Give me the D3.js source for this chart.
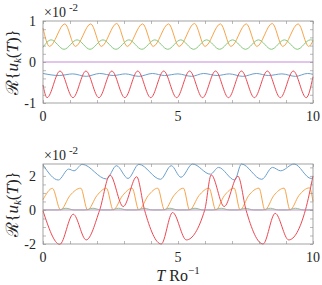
<!DOCTYPE html>
<html>
<head>
<meta charset="utf-8">
<script src="https://cdn.jsdelivr.net/npm/d3@7"></script>
<style>
  body { margin: 0; background: #fff; }
  text { font-family: "Liberation Serif", "DejaVu Serif", serif; fill: #262626; }
</style>
</head>
<body>
<div id="chart-container"></div>
<script>
// Chart size
const width = 322;
const height = 285;
const marginLeft = 43;
const marginRight = 9;

// x axis (time) values
const xDomain = [0, 10];
const xTicks = [0, 1, 2, 3, 4, 5, 6, 7, 8, 9, 10];
const xTickLabels = [0, 5, 10];

// top panel series, [T, value x1e-2]
const topBlue = [[0,-0.28],[0.6,-0.33],[1.1,-0.29],[1.6,-0.35],[2.1,-0.28],[2.6,-0.33],[3.05,-0.29],[3.55,-0.35],[4.05,-0.28],[4.5,-0.33],[5.0,-0.29],[5.5,-0.35],[5.95,-0.28],[6.45,-0.33],[6.9,-0.29],[7.4,-0.35],[7.9,-0.28],[8.35,-0.33],[8.85,-0.29],[9.35,-0.35],[9.8,-0.28],[10,-0.3]];
const topOrange = [[0,0.83],[0.24,0.38],[0.81,0.93],[1.2,0.38],[1.77,0.93],[2.16,0.38],[2.73,0.94],[3.12,0.38],[3.69,0.93],[4.08,0.38],[4.65,0.93],[5.04,0.38],[5.61,0.94],[6.0,0.38],[6.57,0.93],[6.96,0.38],[7.53,0.93],[7.92,0.38],[8.49,0.94],[8.88,0.38],[9.45,0.93],[9.84,0.38],[10,0.52]];
const topGreen = [[0,0.36],[0.3,0.54],[0.78,0.31],[1.26,0.54],[1.74,0.31],[2.22,0.54],[2.7,0.31],[3.18,0.54],[3.66,0.31],[4.14,0.54],[4.62,0.31],[5.1,0.54],[5.58,0.31],[6.06,0.54],[6.54,0.31],[7.02,0.54],[7.5,0.31],[7.98,0.54],[8.46,0.31],[8.94,0.54],[9.42,0.31],[9.9,0.54],[10,0.53]];
const topRed = [[0,-0.56],[0.15,-0.87],[0.63,-0.22],[1.11,-0.87],[1.59,-0.22],[2.07,-0.87],[2.55,-0.22],[3.03,-0.87],[3.51,-0.22],[3.99,-0.87],[4.47,-0.22],[4.95,-0.87],[5.43,-0.22],[5.91,-0.87],[6.39,-0.22],[6.87,-0.87],[7.35,-0.22],[7.83,-0.87],[8.31,-0.22],[8.79,-0.87],[9.27,-0.22],[9.75,-0.87],[10,-0.36]];
const topPurple = [[0,0],[10,0]];

// bottom panel series, [T, value x1e-2]
const botBlue = [[0,2.65],[0.57,1.76],[0.95,2.4],[1.15,2.3],[1.45,2.68],[2.35,1.82],[2.72,2.6],[3.15,1.85],[3.55,2.68],[4.35,1.8],[4.75,2.6],[5.11,1.92],[5.54,2.7],[6.2,2.1],[6.5,2.5],[7.1,1.76],[7.35,2.7],[8.1,1.8],[8.5,2.5],[8.8,2.3],[9.3,2.7],[9.93,1.85],[10,1.9]];
const botOrange = [[0,0.6],[0.35,1.27],[0.65,0],[1.0,0.85],[1.4,1.28],[1.65,0],[2.0,0.85],[2.35,1.28],[2.6,0],[2.95,0.85],[3.3,1.28],[3.55,0],[3.9,0.85],[4.25,1.28],[4.5,0],[4.85,0.85],[5.2,1.28],[5.43,0],[5.78,0.85],[6.15,1.28],[6.4,0],[6.72,0.85],[7.08,1.28],[7.3,0],[7.62,0.85],[8.0,1.28],[8.22,0],[8.55,0.85],[8.93,1.28],[9.15,0],[9.48,0.85],[9.87,1.3],[10,0.5]];
const botGreen = [[0,0],[0.55,0],[0.85,0.1],[1.15,0],[1.55,0],[1.85,0.1],[2.15,0],[2.5,0],[2.8,0.1],[3.1,0],[3.45,0],[3.75,0.1],[4.05,0],[4.4,0],[4.7,0.1],[5.0,0],[5.33,0],[5.63,0.1],[5.93,0],[6.3,0],[6.6,0.1],[6.9,0],[7.2,0],[7.5,0.1],[7.8,0],[8.12,0],[8.42,0.1],[8.72,0],[9.05,0],[9.35,0.1],[9.65,0],[10,0]];
const botRed = [[0,-0.05],[0.62,-2.02],[1.12,-0.25],[1.6,-1.76],[2.1,0],[2.48,2.05],[2.97,0.2],[3.47,1.95],[3.76,0],[4.38,-2.0],[4.8,-0.15],[5.31,-1.76],[5.99,0],[6.23,2.06],[6.71,0.2],[7.22,1.98],[7.52,0],[8.15,-2.0],[8.6,-0.2],[9.1,-1.76],[9.72,0],[10,2.0]];
const botPurple = [[0,0],[10,0]];

const colors = { blue: "#6b9fcd", orange: "#f8a449", green: "#86c97c", red: "#ec4852", purple: "#c78bd6" };

const panels = [
  { top: 21, bottom: 103, yDomain: [-1, 1], yTicks: d3.range(-1, 1.0001, 0.2), yLabels: [-1, 0, 1],
    series: [[topBlue, colors.blue], [topOrange, colors.orange], [topGreen, colors.green], [topRed, colors.red], [topPurple, colors.purple]],
    tickLabelY: 121 },
  { top: 164, bottom: 244, yDomain: [-2, 2.7], yTicks: d3.range(-2, 2.7, 0.5), yLabels: [-2, 0, 2],
    series: [[botBlue, colors.blue], [botOrange, colors.orange], [botGreen, colors.green], [botRed, colors.red], [botPurple, colors.purple]],
    tickLabelY: 262 }
];

const svg = d3.create("svg")
    .attr("width", width)
    .attr("height", height);

const x = d3.scaleLinear()
    .domain(xDomain)
    .range([marginLeft, width - marginRight]);

const axisColor = "#8c8c8c";

panels.forEach(p => {
  const y = d3.scaleLinear().domain(p.yDomain).range([p.bottom, p.top]);

  const line = d3.line()
      .x(d => x(d[0]))
      .y(d => y(d[1]))
      .curve(d3.curveMonotoneX);

  const g = svg.append("g");

  // curves
  p.series.forEach(([data, color]) => {
    g.append("path")
        .datum(data)
        .attr("fill", "none")
        .attr("stroke", color)
        .attr("stroke-width", 1)
        .attr("d", line);
  });

  // inner ticks, all four sides
  const tl = 3;
  g.append("g")
      .attr("transform", `translate(0,${p.bottom})`)
      .call(d3.axisBottom(x).tickValues(xTicks).tickSize(-tl).tickFormat(""))
      .call(a => a.select(".domain").remove());
  g.append("g")
      .attr("transform", `translate(0,${p.top})`)
      .call(d3.axisTop(x).tickValues(xTicks).tickSize(-tl).tickFormat(""))
      .call(a => a.select(".domain").remove());
  g.append("g")
      .attr("transform", `translate(${marginLeft},0)`)
      .call(d3.axisLeft(y).tickValues(p.yTicks).tickSize(-tl).tickFormat(""))
      .call(a => a.select(".domain").remove());
  g.append("g")
      .attr("transform", `translate(${width - marginRight},0)`)
      .call(d3.axisRight(y).tickValues(p.yTicks).tickSize(-tl).tickFormat(""))
      .call(a => a.select(".domain").remove());
  g.selectAll(".tick line").attr("stroke", axisColor).attr("stroke-width", 0.6);

  // box
  g.append("rect")
      .attr("x", marginLeft)
      .attr("y", p.top)
      .attr("width", width - marginRight - marginLeft)
      .attr("height", p.bottom - p.top)
      .attr("fill", "none")
      .attr("stroke", axisColor)
      .attr("stroke-width", 0.8);

  // tick labels
  g.selectAll(".xl")
    .data(xTickLabels)
    .join("text")
      .attr("x", d => x(d))
      .attr("y", p.tickLabelY)
      .attr("text-anchor", "middle")
      .attr("font-size", 14)
      .text(d => d);
  g.selectAll(".yl")
    .data(p.yLabels)
    .join("text")
      .attr("x", marginLeft - 7)
      .attr("y", d => y(d) + 5)
      .attr("text-anchor", "end")
      .attr("font-size", 14)
      .text(d => d);

  // exponent
  const ex = g.append("text")
      .attr("x", marginLeft + 1)
      .attr("y", p.top - 4)
      .attr("font-size", 14);
  ex.append("tspan").text("\u00d710");
  ex.append("tspan").attr("font-size", 11).attr("dx", 3).attr("dy", -6).text("-2");

  // y label
  const yl = g.append("text")
      .attr("transform", `translate(18,${(p.top + p.bottom) / 2}) rotate(-90)`)
      .attr("text-anchor", "middle")
      .attr("font-size", 17);
  yl.append("tspan").text("\u211b{");
  yl.append("tspan").attr("font-style", "italic").text("u");
  yl.append("tspan").attr("font-style", "italic").attr("font-size", 11).attr("dy", 3).text("k");
  yl.append("tspan").attr("dy", -3).text("(");
  yl.append("tspan").attr("font-style", "italic").text("T");
  yl.append("tspan").text(")}");
});

// x label
const xl = svg.append("text")
    .attr("x", (marginLeft + width - marginRight) / 2)
    .attr("y", 281)
    .attr("text-anchor", "middle")
    .attr("font-size", 16);
xl.append("tspan").attr("font-style", "italic").text("T");
xl.append("tspan").text(" Ro");
xl.append("tspan").attr("font-size", 11).attr("dy", -7).text("\u22121");

d3.select("#chart-container").append(() => svg.node());
</script>
</body>
</html>
